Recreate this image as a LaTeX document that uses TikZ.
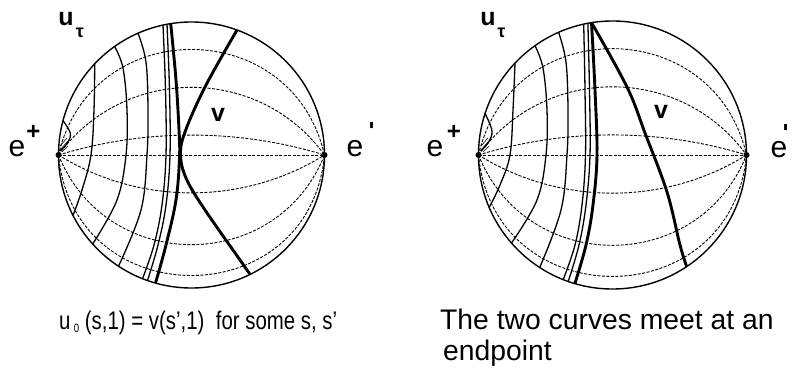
\documentclass[tikz,border=0pt]{standalone}
\usepackage{fontspec}
\usepackage{graphicx}
\setmainfont{Liberation Sans}
\usetikzlibrary{calc}
\newcommand\geofam[2]{%
  \draw[geod] (#1) to[bend left=77.1, looseness=1.392] (#2);
  \draw[geod] (#1) to[bend left=54.1, looseness=1.074] (#2);
  \draw[geod] (#1) to[bend left=17.1, looseness=0.871] (#2);
  \draw[geod] (#1) -- (#2);
  \draw[geod] (#1) to[bend right=31.9, looseness=0.921] (#2);
  \draw[geod] (#1) to[bend right=68.2, looseness=1.241] (#2);
  \draw[geod] (#1) to[bend right=84.6, looseness=1.556] (#2);
}
\begin{document}
\begin{tikzpicture}[x=1pt,y=-1pt,
  rim/.style={line width=1.4pt},
  thinu/.style={line width=1.3pt},
  thicku/.style={line width=2.9pt},
  hatch/.style={line width=0.6pt},
  geod/.style={line width=0.9pt, dash pattern=on 3pt off 1.5pt},
  lbl/.style={inner sep=0pt, font=\fontsize{30}{36}\selectfont},
  sup/.style={inner sep=0pt, font=\fontsize{24}{28}\selectfont\bfseries},
  bl/.style={inner sep=0pt, font=\fontsize{25}{30}\selectfont\bfseries},
  sub/.style={inner sep=0pt, font=\fontsize{18}{20}\selectfont\bfseries},
  capl/.style={inner sep=0pt, anchor=base west, font=\fontsize{25.5}{30}\selectfont},
  capr/.style={inner sep=0pt, anchor=base west, font=\fontsize{28.3}{34}\selectfont}]
\fill[white] (0,0) rectangle (796,370);
\useasboundingbox (0,0) rectangle (796,370);
% ---------- left disk ----------
\coordinate (C1) at (191.5,155);
\coordinate (ep1) at (58.5,155);
\coordinate (em1) at (324.5,155);
\geofam{ep1}{em1}
\draw[thinu] plot[smooth, tension=0.6] coordinates {(63,120.6) (70.5,134) (66,145) (59.5,151)};
\draw[hatch] (60,146) -- (67,138) (60,150) -- (68,141) (62,152) -- (68,146);
\draw[thinu] plot[smooth, tension=0.6] coordinates {(94.7,63.8) (94,110) (91,155) (82,190) (73,215.4)};
\draw[thinu] plot[smooth, tension=0.6] coordinates {(114.6,46.5) (123,68) (127,110) (126,155) (117,200) (92.7,244)};
\draw[thinu] plot[smooth, tension=0.6] coordinates {(138,33.2) (146,62) (148,110) (147,155) (141,210) (118.5,266.2)};
\draw[thinu] plot[smooth, tension=0.6] coordinates {(163,25.1) (165.5,90) (166,155) (162,205) (154,245) (142.5,278.7)};
\draw[thinu] plot[smooth, tension=0.6] coordinates {(167,24.3) (169.5,90) (170,155) (166,205) (158,245) (147.5,280.5)};
\draw[thicku] plot[smooth, tension=0.6] coordinates {(170.7,23.6) (176,80) (179,130) (179.5,158) (176,200) (166,245) (155.5,283)};
\draw[thicku] plot[smooth, tension=0.6] coordinates {(237,30) (205,87) (185,132) (180.5,155) (186,178) (203,207) (240,260) (250,274.4)};
\draw[rim] (C1) circle[radius=133pt];
\fill (ep1) circle[radius=3pt];
\fill (em1) circle[radius=3pt];
\node[bl] (ul) at (66,19) {u};
\node[sub] (tl) at (80,33) {τ};
\node[bl] (vl) at (218,114.5) {v};
\node[lbl] (epl) at (17,149) {e};
\node[sup] (epls) at (33.5,132.5) {+};
\node[lbl] (eml) at (355,149) {e};
\node[sup, rotate=90] (emls) at (374,126) {-};
\node[capl] (capL) at (59,329) {\scalebox{0.8}[1]{u\,\raisebox{-3pt}{\fontsize{12}{13}\selectfont 0}\ (s,1) = v(s',1)\ \ for some s, s'}};
% ---------- right disk ----------
\coordinate (C2) at (612.5,155);
\coordinate (ep2) at (478.5,155);
\coordinate (em2) at (746.5,155);
\geofam{ep2}{em2}
\draw[thinu] plot[smooth, tension=0.6] coordinates {(485.1,113.6) (492,131) (488,143) (480.5,151)};
\draw[hatch] (481,146) -- (488,138) (481,150) -- (489,141) (483,152) -- (489,146);
\draw[thinu] plot[smooth, tension=0.6] coordinates {(515,63.1) (513,110) (510,155) (500,185) (489.2,207.4)};
\draw[thinu] plot[smooth, tension=0.6] coordinates {(535,45.7) (543,68) (547,110) (546,155) (537,200) (511.5,243.1)};
\draw[thinu] plot[smooth, tension=0.6] coordinates {(558.6,32.3) (566,62) (568,110) (567,155) (561,210) (539.7,267.5)};
\draw[thinu] plot[smooth, tension=0.6] coordinates {(583.7,24.1) (585,90) (585.5,155) (582,205) (575,245) (563.2,279.6)};
\draw[thinu] plot[smooth, tension=0.6] coordinates {(587.9,23.3) (589.5,90) (590,155) (586,205) (579,245) (568.2,281.5)};
\draw[thicku] plot[smooth, tension=0.6] coordinates {(591.5,22.6) (595,90) (597,155) (593,205) (586,245) (574.9,283.6)};
\draw[thicku] plot[smooth, tension=0.6] coordinates {(591.5,22.6) (627,87) (645,133) (667,192) (680,245) (686.7,266.6)};
\draw[rim] (C2) circle[radius=134pt];
\fill (ep2) circle[radius=3pt];
\fill (em2) circle[radius=3pt];
\node[bl] (ur) at (488,19.5) {u};
\node[sub] (tr) at (501.5,33) {τ};
\node[bl] (vr) at (661,112) {v};
\node[lbl] (epr) at (435,149) {e};
\node[sup] (eprs) at (454,132.5) {+};
\node[lbl] (emr) at (779,150) {e};
\node[sup, rotate=90] (emrs) at (788,128) {-};
\node[capr] (capR1) at (440,329) {The two curves meet at an};
\node[capr] (capR2) at (443,360) {endpoint};
\end{tikzpicture}
\end{document}
